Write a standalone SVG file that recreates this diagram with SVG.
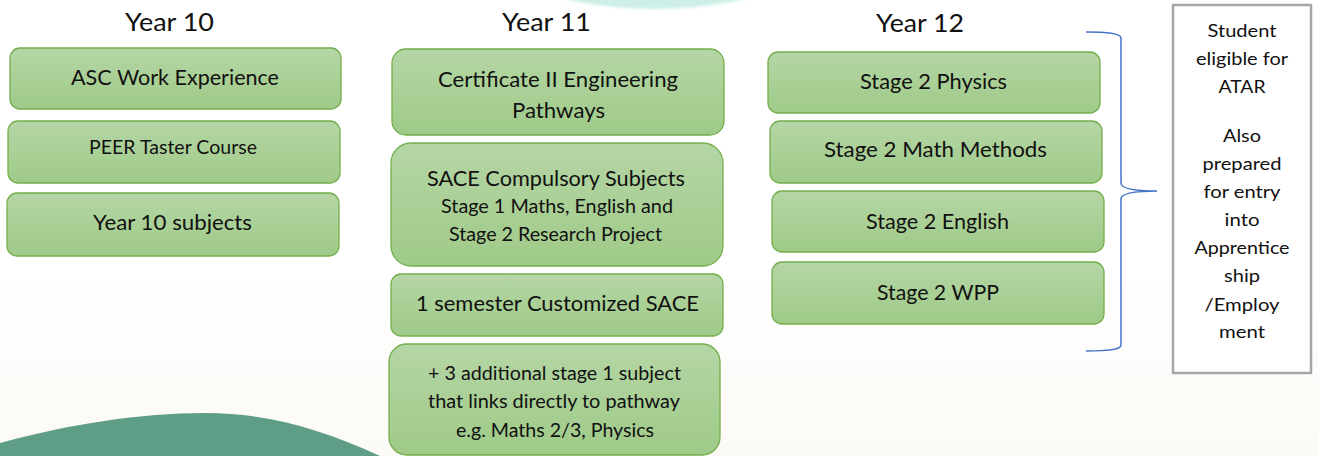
<svg xmlns="http://www.w3.org/2000/svg" width="1319" height="456" viewBox="0 0 1319 456">
  <defs>
    <linearGradient id="g" x1="0" y1="0" x2="0" y2="1">
      <stop offset="0" stop-color="#B5D6A5"/>
      <stop offset="1" stop-color="#9FCA88"/>
    </linearGradient>
    <linearGradient id="bg" x1="0" y1="0" x2="0" y2="1">
      <stop offset="0" stop-color="#FFFFFF"/>
      <stop offset="0.6" stop-color="#FFFFFF"/>
      <stop offset="1" stop-color="#FBFAF6"/>
    </linearGradient>
    <filter id="blur" x="-10%" y="-10%" width="120%" height="120%">
      <feGaussianBlur stdDeviation="1.5"/>
    </filter>
    <style>
      .box { fill: url(#g); stroke: #74AE4C; stroke-width: 1.3; }
      .t { font-family: Lato, "Open Sans", "Liberation Sans", sans-serif; fill: #111111; text-anchor: middle; }
      .title { font-size: 25px; }
      .main { font-size: 21.5px; }
      .sub { font-size: 18.5px; }
      .side { font-size: 18px; }
      .brace { fill: none; stroke: #4472C4; stroke-width: 1.5; }
      .outbox { fill: #FFFFFF; stroke: #A6A6A6; stroke-width: 2.5; }
    </style>
  </defs>

  <!-- background -->
  <rect x="0" y="0" width="1319" height="456" fill="url(#bg)"/>
  <circle cx="655" cy="-397" r="406" fill="#CDEFE7" filter="url(#blur)"/>
  <path d="M0,443 C70,424 140,413 205,413 C265,413 320,428 380,456 L0,456 Z" fill="#5E9E86"/>

  <!-- column titles -->
  <g id="titles">
    <text class="t title" x="169.5" y="31" textLength="89" lengthAdjust="spacingAndGlyphs">Year 10</text>
    <text class="t title" x="546.5" y="31" textLength="89" lengthAdjust="spacingAndGlyphs">Year 11</text>
    <text class="t title" x="920" y="32" textLength="88" lengthAdjust="spacingAndGlyphs">Year 12</text>
  </g>

  <!-- Year 10 -->
  <g id="y10-asc">
    <rect class="box" x="10" y="48" width="331" height="61" rx="10"/>
    <text class="t main" x="175" y="85" textLength="208" lengthAdjust="spacingAndGlyphs">ASC Work Experience</text>
  </g>
  <g id="y10-peer">
    <rect class="box" x="8" y="121" width="332" height="62" rx="10"/>
    <text class="t" style="font-size:19px" x="173" y="154" textLength="168" lengthAdjust="spacingAndGlyphs">PEER Taster Course</text>
  </g>
  <g id="y10-subjects">
    <rect class="box" x="7" y="193" width="332" height="63" rx="10"/>
    <text class="t main" x="172.5" y="230" textLength="159" lengthAdjust="spacingAndGlyphs">Year 10 subjects</text>
  </g>

  <!-- Year 11 -->
  <g id="y11-cert">
    <rect class="box" x="392" y="49" width="332" height="86" rx="14"/>
    <text class="t main" x="558" y="87" textLength="240" lengthAdjust="spacingAndGlyphs">Certificate II Engineering</text>
    <text class="t main" x="558.5" y="118" textLength="93" lengthAdjust="spacingAndGlyphs">Pathways</text>
  </g>
  <g id="y11-sace">
    <rect class="box" x="391" y="143" width="332" height="123" rx="20"/>
    <text class="t main" x="556" y="186" textLength="258" lengthAdjust="spacingAndGlyphs">SACE Compulsory Subjects</text>
    <text class="t sub" x="557" y="213" textLength="232" lengthAdjust="spacingAndGlyphs">Stage 1 Maths, English and</text>
    <text class="t sub" x="555.5" y="241" textLength="213" lengthAdjust="spacingAndGlyphs">Stage 2 Research Project</text>
  </g>
  <g id="y11-custom">
    <rect class="box" x="391" y="274" width="332" height="62" rx="10"/>
    <text class="t main" x="557.5" y="311" textLength="283" lengthAdjust="spacingAndGlyphs">1 semester Customized SACE</text>
  </g>
  <g id="y11-additional">
    <rect class="box" x="389" y="344" width="331" height="111" rx="18"/>
    <text class="t sub" x="554.5" y="380" textLength="253" lengthAdjust="spacingAndGlyphs">+ 3 additional stage 1 subject</text>
    <text class="t sub" x="554" y="408" textLength="252" lengthAdjust="spacingAndGlyphs">that links directly to pathway</text>
    <text class="t sub" x="555" y="437" textLength="198" lengthAdjust="spacingAndGlyphs">e.g. Maths 2/3, Physics</text>
  </g>

  <!-- Year 12 -->
  <g id="y12-physics">
    <rect class="box" x="768" y="52" width="332" height="61" rx="10"/>
    <text class="t main" x="933.5" y="89" textLength="147" lengthAdjust="spacingAndGlyphs">Stage 2 Physics</text>
  </g>
  <g id="y12-methods">
    <rect class="box" x="770" y="121" width="332" height="62" rx="10"/>
    <text class="t main" x="935.5" y="157" textLength="223" lengthAdjust="spacingAndGlyphs">Stage 2 Math Methods</text>
  </g>
  <g id="y12-english">
    <rect class="box" x="772" y="191" width="332" height="61" rx="10"/>
    <text class="t main" x="937.5" y="229" textLength="143" lengthAdjust="spacingAndGlyphs">Stage 2 English</text>
  </g>
  <g id="y12-wpp">
    <rect class="box" x="772" y="262" width="332" height="62" rx="10"/>
    <text class="t main" x="938" y="300" textLength="122" lengthAdjust="spacingAndGlyphs">Stage 2 WPP</text>
  </g>

  <!-- connectors -->
  <g id="connectors">
    <path class="brace" d="M1086,32 C1106,32 1121,33 1121,38 L1121,183 C1121,189 1135,191 1157,191 C1135,191 1121,193 1121,199 L1121,345 C1121,350 1106,351 1086,351"/>
  </g>

  <!-- outcome box -->
  <g id="outcome">
    <rect class="outbox" x="1173" y="5" width="138" height="368"/>
    <text class="t side" x="1242" y="37" textLength="69" lengthAdjust="spacingAndGlyphs">Student</text>
    <text class="t side" x="1242" y="65" textLength="92" lengthAdjust="spacingAndGlyphs">eligible for</text>
    <text class="t side" x="1242" y="93" textLength="47" lengthAdjust="spacingAndGlyphs">ATAR</text>
    <text class="t side" x="1242" y="142" textLength="38" lengthAdjust="spacingAndGlyphs">Also</text>
    <text class="t side" x="1242" y="170" textLength="79" lengthAdjust="spacingAndGlyphs">prepared</text>
    <text class="t side" x="1242" y="198" textLength="77" lengthAdjust="spacingAndGlyphs">for entry</text>
    <text class="t side" x="1242" y="226" textLength="35" lengthAdjust="spacingAndGlyphs">into</text>
    <text class="t side" x="1242" y="254" textLength="95" lengthAdjust="spacingAndGlyphs">Apprentice</text>
    <text class="t side" x="1242" y="282" textLength="36" lengthAdjust="spacingAndGlyphs">ship</text>
    <text class="t side" x="1242" y="311" textLength="75" lengthAdjust="spacingAndGlyphs">/Employ</text>
    <text class="t side" x="1242" y="338" textLength="46" lengthAdjust="spacingAndGlyphs">ment</text>
  </g>
</svg>
